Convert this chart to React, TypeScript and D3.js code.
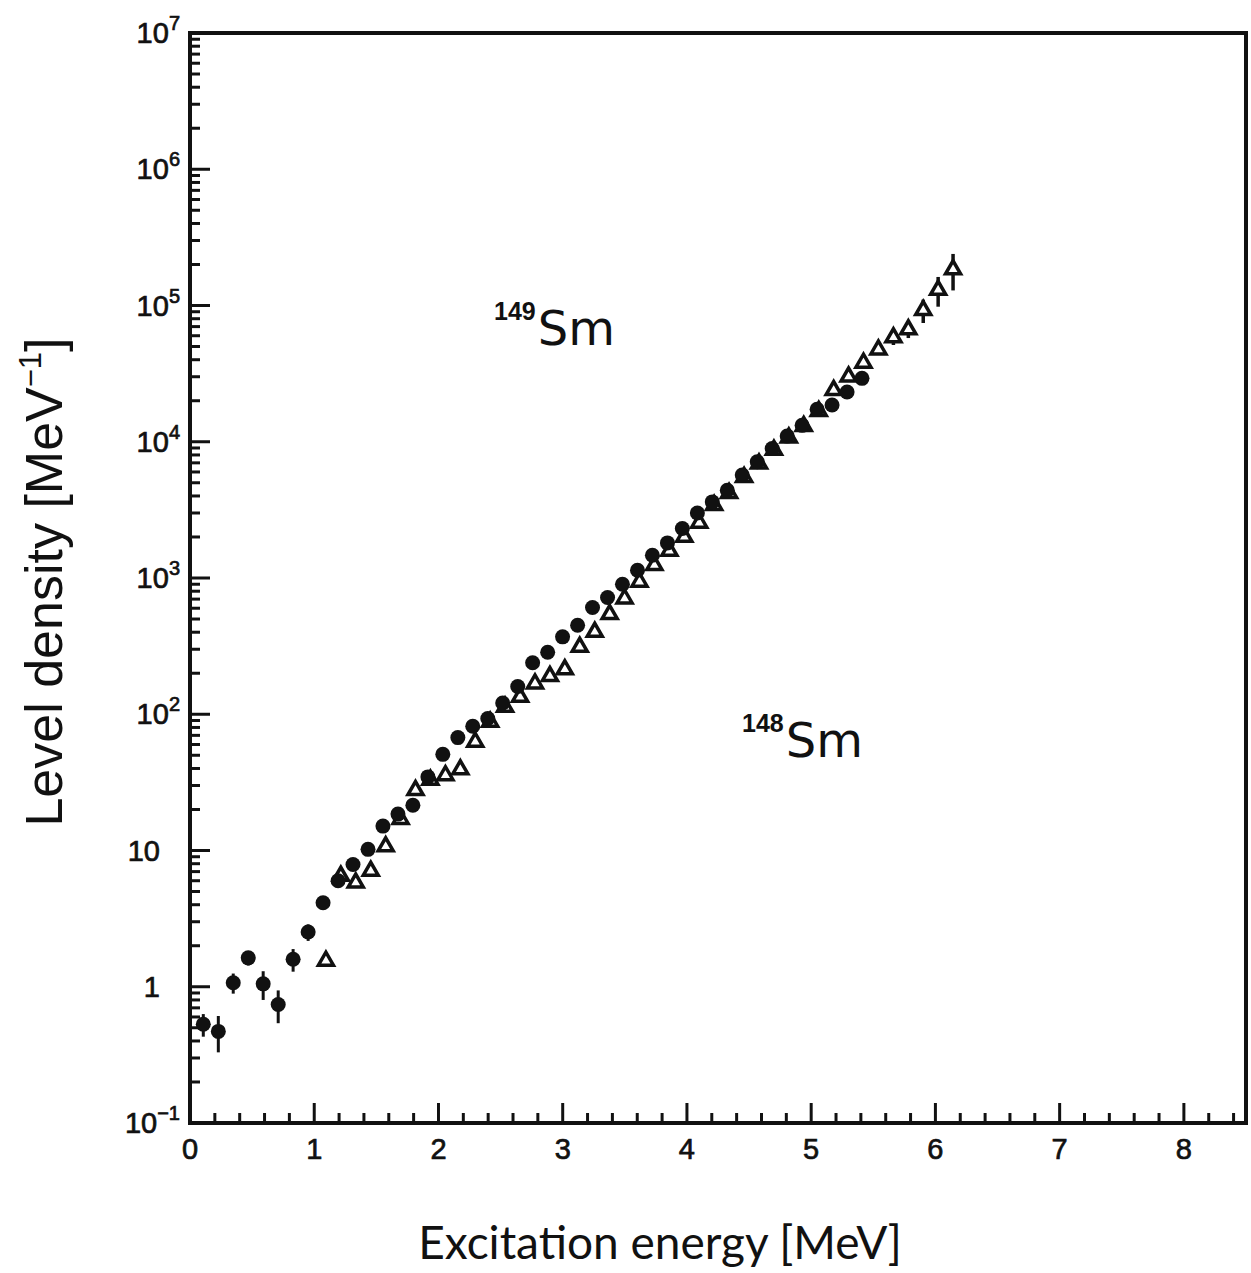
import React from "react";
import * as d3 from "d3";

// ---------- data ----------
const sm149Energy = [0.107,0.228,0.348,0.469,0.589,0.710,0.830,0.951,1.071,1.192,1.312,1.433,1.553,1.674,1.794,1.915,2.035,2.156,2.276,2.397,2.517,2.638,2.758,2.879,2.999,3.120,3.240,3.361,3.481,3.602,3.722,3.843,3.963,4.084,4.204,4.325,4.445,4.566,4.686,4.807,4.927,5.048,5.168,5.289,5.409];
const sm149Density = [0.53,0.47,1.07,1.63,1.05,0.74,1.59,2.52,4.14,6.0,7.9,10.2,15.1,18.5,21.5,34.7,50.8,67.4,81.6,93,121,160,239,285,370,450,607,719,900,1140,1470,1810,2310,3000,3620,4410,5690,7130,8930,11000,13200,17300,18600,23200,29200];
const sm149Error = [0.1,0.14,0.18,0.2,0.25,0.2,0.3,0.35,0.45,0.6,0.5,0,0,0,0,0,0,0,0,0,0,0,0,0,0,0,0,0,0,0,0,0,0,0,0,0,0,0,0,0,0,0,0,0,0];

const sm148Energy = [1.094,1.214,1.334,1.455,1.575,1.695,1.815,1.935,2.056,2.176,2.296,2.416,2.536,2.657,2.777,2.897,3.017,3.137,3.258,3.378,3.498,3.618,3.738,3.859,3.979,4.099,4.219,4.339,4.460,4.580,4.700,4.820,4.940,5.061,5.181,5.301,5.421,5.541,5.662,5.782,5.902,6.022,6.142];
const sm148Density = [1.55,6.5,5.8,7.08,10.7,17,27.7,33,35.6,39.3,62.7,88,113,134,168,190,213,312,402,542,706,937,1240,1580,2000,2540,3420,4200,5500,6900,8700,10700,13000,16800,23900,30000,37900,47500,58300,66700,92400,130000,184000];
const sm148Error = [0,0,0,0,0,0,0,0,0,0,0,0,0,0,0,0,0,0,0,0,0,0,0,0,0,0,0,0,0,0,0,0,0,0,0,0,0,0,7000,9000,18000,32000,55000];

const xTickLabels = ["0","1","2","3","4","5","6","7","8"];
const yDecades = [-1,0,1,2,3,4,5,6,7];

// ---------- layout ----------
const W = 1251, H = 1273;
const L = 190, R = 1246, T = 33, B = 1123;

export default function App() {
  const x = d3.scaleLinear().domain([0, 8.5]).range([L, R]);
  const y = d3.scaleLog().domain([0.1, 1e7]).range([B, T]);

  const xMajor = d3.range(0, 9, 1);
  const xMinor = d3.range(0, 8.5001, 0.2).filter(v => Math.abs(v - Math.round(v)) > 1e-6);
  const yMinor: number[] = [];
  for (let e = -1; e < 7; e++) for (let m = 2; m <= 9; m++) yMinor.push(m * Math.pow(10, e));

  const tickFont = "'Liberation Sans', Arial, sans-serif";
  const titleFont = "Lato, 'Noto Sans', sans-serif";
  const labelFont = "'DejaVu Sans', sans-serif";

  const tri = (cx: number, cy: number) => {
    const hw = 7.5, h = 13;
    return `M${cx - hw},${cy + h / 3}L${cx + hw},${cy + h / 3}L${cx},${cy - (2 * h) / 3}Z`;
  };

  return (
    <svg width={W} height={H} style={{ position: "absolute", left: 0, top: 0, background: "#fff" }}>
      <rect x={0} y={0} width={W} height={H} fill="#fff" />
      {/* ticks */}
      <g stroke="#111" strokeWidth={3}>
        {xMajor.map(v => <line key={"xM" + v} x1={x(v)} x2={x(v)} y1={B} y2={B - 20} />)}
        {xMinor.map((v, i) => <line key={"xm" + i} x1={x(v)} x2={x(v)} y1={B} y2={B - 10} />)}
        {yDecades.map(e => <line key={"yM" + e} x1={L} x2={L + 20} y1={y(Math.pow(10, e))} y2={y(Math.pow(10, e))} />)}
        {yMinor.map((v, i) => <line key={"ym" + i} x1={L} x2={L + 10} y1={y(v)} y2={y(v)} />)}
      </g>
      <rect x={L} y={T} width={R - L} height={B - T} fill="none" stroke="#111" strokeWidth={4} />

      {/* x tick labels */}
      <g fontFamily={tickFont} fontSize={29} fill="#111" stroke="#111" strokeWidth={0.7} textAnchor="middle">
        {xMajor.map((v, i) => <text key={"xl" + v} x={x(v)} y={1159}>{xTickLabels[i]}</text>)}
      </g>
      {/* y tick labels */}
      <g fontFamily={tickFont} fontSize={29} fill="#111" stroke="#111" strokeWidth={0.7}>
        {yDecades.map(e => {
          const yy = y(Math.pow(10, e)) + 10;
          if (e === 0) return <text key={"yl" + e} x={160} y={yy} textAnchor="end">1</text>;
          if (e === 1) return <text key={"yl" + e} x={160} y={yy} textAnchor="end">10</text>;
          return (
            <text key={"yl" + e} x={180} y={yy} textAnchor="end">
              10<tspan fontSize={20} dy={-13}>{e === -1 ? "\u22121" : String(e)}</tspan>
            </text>
          );
        })}
      </g>

      {/* 148Sm triangles (drawn first) */}
      <g stroke="#111" strokeWidth={3.5}>
        {sm148Energy.map((e, i) => sm148Error[i] > 0 ? (
          <line key={"te" + i} x1={x(e)} x2={x(e)} y1={y(sm148Density[i] + sm148Error[i])} y2={y(Math.max(sm148Density[i] - sm148Error[i], 0.01))} />
        ) : null)}
        {sm148Energy.map((e, i) => (
          <path key={"t" + i} d={tri(x(e), y(sm148Density[i]))} fill="#fff" strokeLinejoin="miter" />
        ))}
      </g>
      {/* 149Sm circles */}
      <g>
        {sm149Energy.map((e, i) => sm149Error[i] > 0 ? (
          <line key={"ce" + i} x1={x(e)} x2={x(e)} y1={y(sm149Density[i] + sm149Error[i])} y2={y(Math.max(sm149Density[i] - sm149Error[i], 0.01))} stroke="#111" strokeWidth={3} />
        ) : null)}
        {sm149Energy.map((e, i) => (
          <circle key={"c" + i} cx={x(e)} cy={y(sm149Density[i])} r={7.5} fill="#111" />
        ))}
      </g>

      {/* annotations */}
      <text x={494} y={345} fill="#111">
        <tspan fontSize={25} fontFamily={tickFont} fontWeight={700} dy={-25}>149</tspan>
        <tspan fontSize={48} fontFamily={labelFont} dx={2} dy={25}>Sm</tspan>
      </text>
      <text x={742} y={757} fill="#111">
        <tspan fontSize={25} fontFamily={tickFont} fontWeight={700} dy={-25}>148</tspan>
        <tspan fontSize={48} fontFamily={labelFont} dx={2} dy={25}>Sm</tspan>
      </text>

      {/* axis titles */}
      <text x={660} y={1259} textAnchor="middle" fontFamily={titleFont} fontSize={46} fill="#111">Excitation energy [MeV]</text>
      <text transform={`translate(62,582) rotate(-90)`} textAnchor="middle" fontFamily={tickFont} fontSize={52} fill="#111">
        Level density [MeV<tspan fontSize={31} dy={-21}>{"\u22121"}</tspan><tspan dy={21}>]</tspan>
      </text>
    </svg>
  );
}
